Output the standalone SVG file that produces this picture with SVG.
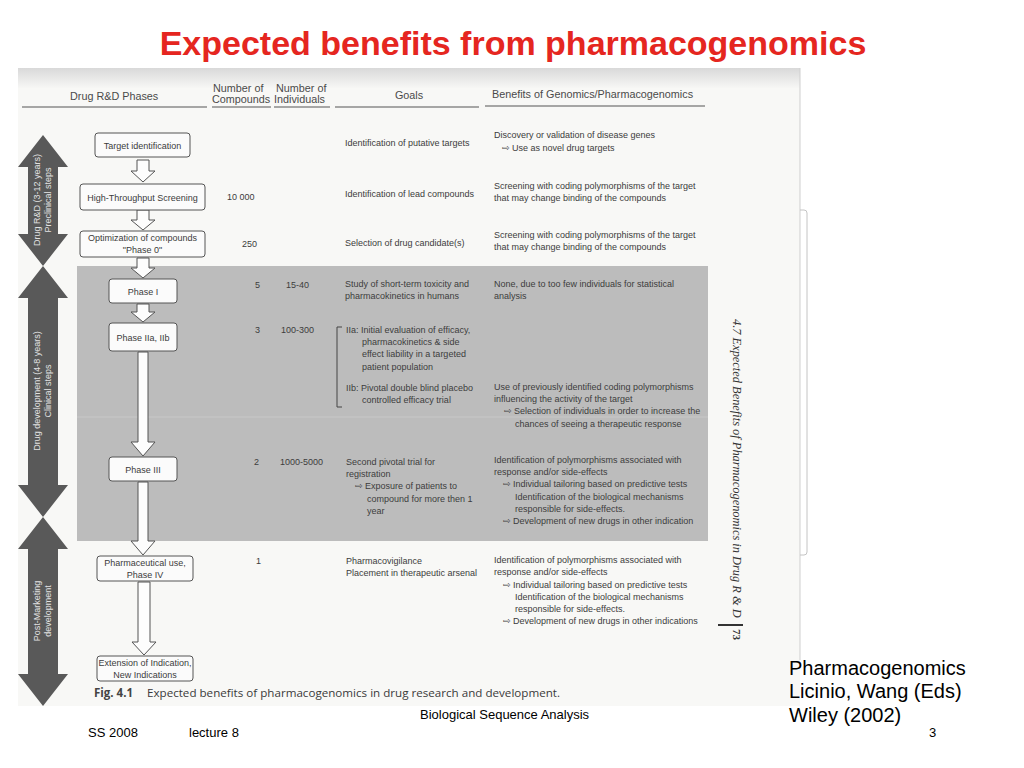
<svg xmlns="http://www.w3.org/2000/svg" width="1024" height="768" viewBox="0 0 1024 768">
<defs>
<linearGradient id="topband" x1="0" y1="0" x2="0" y2="1">
<stop offset="0" stop-color="#d9d9d9"/>
<stop offset="1" stop-color="#f7f7f5"/>
</linearGradient>
<style>
.hdr{font-family:"Liberation Sans","DejaVu Sans",sans-serif;font-size:10.8px;fill:#4a4a4a}
.t{font-family:"Liberation Sans","DejaVu Sans",sans-serif;font-size:9px;fill:#3c3c3c}
.bx{fill:#fbfbfb;stroke:#555;stroke-width:1}
.bt{font-family:"Liberation Sans","DejaVu Sans",sans-serif;font-size:9px;fill:#3c3c3c;text-anchor:middle}
.ba{fill:#fdfdfd;stroke:#555;stroke-width:1;stroke-linejoin:miter}
.da{fill:#595959}
.dt{font-family:"Liberation Sans","DejaVu Sans",sans-serif;font-size:9px;fill:#e2e2e2;text-anchor:middle}
.ul{stroke:#555;stroke-width:1}
.foot{font-family:"Liberation Sans",Arial,sans-serif;font-size:13px;fill:#000}
.ref{font-family:"Liberation Sans",Arial,sans-serif;font-size:20px;fill:#000}
</style>
</defs>
<rect width="1024" height="768" fill="#ffffff"/>
<text x="513" y="55" text-anchor="middle" font-family="'Liberation Sans',Arial,sans-serif" font-size="34" font-weight="bold" fill="#e52620">Expected benefits from pharmacogenomics</text>

<g id="page">
<rect x="18" y="68" width="782" height="638" fill="#f8f8f6"/>
<rect x="18" y="68" width="782" height="20" fill="url(#topband)"/>
<line x1="800" y1="68" x2="800" y2="660" stroke="#cfcfcf" stroke-width="1"/>
<path d="M800,210 H804 Q807,210 807,213 V552 Q807,555 804,555 H800" fill="none" stroke="#c4c4c4" stroke-width="1"/>
<rect x="77" y="266" width="631" height="275" fill="#bcbcbc"/>
<line x1="77" y1="417" x2="708" y2="417" stroke="#c4c4c4" stroke-width="1.5"/>
</g>

<g id="header">
<text class="hdr" x="70" y="100">Drug R&amp;D Phases</text>
<text class="hdr" x="213" y="92">Number of</text>
<text class="hdr" x="212" y="103">Compounds</text>
<text class="hdr" x="276" y="92">Number of</text>
<text class="hdr" x="274" y="103">Individuals</text>
<text class="hdr" x="409" y="99" text-anchor="middle">Goals</text>
<text class="hdr" x="492" y="98">Benefits of Genomics/Pharmacogenomics</text>
<line class="ul" x1="22" y1="107" x2="207" y2="107"/>
<line class="ul" x1="212" y1="107" x2="271" y2="107"/>
<line class="ul" x1="274" y1="107" x2="330" y2="107"/>
<line class="ul" x1="335" y1="107" x2="479" y2="107"/>
<line class="ul" x1="485" y1="106" x2="705" y2="106"/>
</g>

<g id="stage-preclinical">
<path class="da" d="M43,135 L68,167 L58,167 L58,234 L68,234 L43,266 L18,234 L28,234 L28,167 L18,167 Z"/>
<text class="dt" transform="translate(40,200) rotate(-90)">Drug R&amp;D (3-12 years)</text>
<text class="dt" transform="translate(51,200) rotate(-90)">Preclinical steps</text>
</g>
<g id="stage-clinical">
<path class="da" d="M43,266 L68,298 L58,298 L58,485 L68,485 L43,517 L18,485 L28,485 L28,298 L18,298 Z"/>
<text class="dt" transform="translate(40,391) rotate(-90)">Drug development (4-8 years)</text>
<text class="dt" transform="translate(51,391) rotate(-90)">Clinical steps</text>
</g>
<g id="stage-postmarketing">
<path class="da" d="M43,517 L68,549 L58,549 L58,674 L68,674 L43,706 L18,674 L28,674 L28,549 L18,549 Z"/>
<text class="dt" transform="translate(40,611) rotate(-90)">Post-Marketing</text>
<text class="dt" transform="translate(51,611) rotate(-90)">development</text>
</g>

<g id="connectors">
<path class="ba" d="M137,160 H149 V171 H155 L143,182 L131,171 H137 Z"/>
<path class="ba" d="M137,210 H149 V220 H155 L143,230 L131,220 H137 Z"/>
<path class="ba" d="M137,258 H149 V268 H155 L143,278 L131,268 H137 Z"/>
<path class="ba" d="M137,304 H149 V312 H155 L143,322 L131,312 H137 Z"/>
<path class="ba" d="M138,352 H148 V442 H155 L143,456 L131,442 H138 Z"/>
<path class="ba" d="M138,482 H148 V541 H155 L143,555 L131,541 H138 Z"/>
<path class="ba" d="M138,582 H150 V642 H156 L144,655 L132,642 H138 Z"/>
</g>

<g id="target-identification">
<rect class="bx" x="95" y="133" width="95" height="24" rx="3"/>
<text class="bt" x="142.5" y="149">Target identification</text>
<text class="t" x="345" y="146">Identification of putative targets</text>
<text class="t" x="494" y="138">Discovery or validation of disease genes</text>
<text class="t" x="502" y="151">⇨ Use as novel drug targets</text>
</g>

<g id="hts">
<rect class="bx" x="80" y="184" width="125" height="26" rx="3"/>
<text class="bt" x="142.5" y="201">High-Throughput Screening</text>
<text class="t" x="227" y="200">10 000</text>
<text class="t" x="345" y="197">Identification of lead compounds</text>
<text class="t" x="494" y="189">Screening with coding polymorphisms of the target</text>
<text class="t" x="494" y="201">that may change binding of the compounds</text>
</g>

<g id="optimization">
<rect class="bx" x="80" y="231" width="125" height="26" rx="3"/>
<text class="bt" x="142.5" y="241">Optimization of compounds</text>
<text class="bt" x="142.5" y="253">"Phase 0"</text>
<text class="t" x="242" y="247">250</text>
<text class="t" x="345" y="246">Selection of drug candidate(s)</text>
<text class="t" x="494" y="238">Screening with coding polymorphisms of the target</text>
<text class="t" x="494" y="250">that may change binding of the compounds</text>
</g>

<g id="phase-1">
<rect class="bx" x="109" y="279" width="68" height="24" rx="3"/>
<text class="bt" x="143" y="295">Phase I</text>
<text class="t" x="255" y="288">5</text>
<text class="t" x="286" y="288">15-40</text>
<text class="t" x="345" y="287">Study of short-term toxicity and</text>
<text class="t" x="345" y="299">pharmacokinetics in humans</text>
<text class="t" x="494" y="287">None, due to too few individuals for statistical</text>
<text class="t" x="494" y="299">analysis</text>
</g>

<g id="phase-2">
<rect class="bx" x="109" y="323" width="68" height="28" rx="3"/>
<text class="bt" x="143" y="341">Phase IIa, IIb</text>
<text class="t" x="255" y="333">3</text>
<text class="t" x="281" y="333">100-300</text>
<path d="M342,327 H337 V407 H342" fill="none" stroke="#444" stroke-width="1"/>
<text class="t" x="346" y="333">IIa: Initial evaluation of efficacy,</text>
<text class="t" x="362" y="345">pharmacokinetics &amp; side</text>
<text class="t" x="362" y="357">effect liability in a targeted</text>
<text class="t" x="362" y="370">patient population</text>
<text class="t" x="346" y="391">IIb: Pivotal double blind placebo</text>
<text class="t" x="362" y="403">controlled efficacy trial</text>
<text class="t" x="494" y="390">Use of previously identified coding polymorphisms</text>
<text class="t" x="494" y="402">influencing the activity of the target</text>
<text class="t" x="504" y="414">⇨ Selection of individuals in order to increase the</text>
<text class="t" x="515" y="427">chances of seeing a therapeutic response</text>
</g>

<g id="phase-3">
<rect class="bx" x="109" y="457" width="68" height="24" rx="3"/>
<text class="bt" x="143" y="473">Phase III</text>
<text class="t" x="254" y="465">2</text>
<text class="t" x="280" y="465">1000-5000</text>
<text class="t" x="346" y="465">Second pivotal trial for</text>
<text class="t" x="346" y="477">registration</text>
<text class="t" x="355" y="489">⇨ Exposure of patients to</text>
<text class="t" x="367" y="502">compound for more then 1</text>
<text class="t" x="367" y="514">year</text>
<text class="t" x="494" y="463">Identification of polymorphisms associated with</text>
<text class="t" x="494" y="475">response and/or side-effects</text>
<text class="t" x="503" y="487">⇨ Individual tailoring based on predictive tests</text>
<text class="t" x="515" y="500">Identification of the biological mechanisms</text>
<text class="t" x="515" y="512">responsible for side-effects.</text>
<text class="t" x="503" y="524">⇨ Development of new drugs in other indication</text>
</g>

<g id="phase-4">
<rect class="bx" x="97" y="556" width="96" height="25" rx="3"/>
<text class="bt" x="145" y="566">Pharmaceutical use,</text>
<text class="bt" x="145" y="578">Phase IV</text>
<text class="t" x="256" y="564">1</text>
<text class="t" x="346" y="564">Pharmacovigilance</text>
<text class="t" x="346" y="576">Placement in therapeutic arsenal</text>
<text class="t" x="494" y="563">Identification of polymorphisms associated with</text>
<text class="t" x="494" y="575">response and/or side-effects</text>
<text class="t" x="503" y="588">⇨ Individual tailoring based on predictive tests</text>
<text class="t" x="515" y="600">Identification of the biological mechanisms</text>
<text class="t" x="515" y="612">responsible for side-effects.</text>
<text class="t" x="503" y="624">⇨ Development of new drugs in other indications</text>
</g>

<g id="extension">
<rect class="bx" x="97" y="656" width="96" height="25" rx="3"/>
<text class="bt" x="145" y="666">Extension of Indication,</text>
<text class="bt" x="145" y="678">New Indications</text>
</g>

<g id="running-head">
<text transform="translate(733,319) rotate(90)" font-family="'Liberation Serif','DejaVu Serif',serif" font-style="italic" font-size="12.4" fill="#333">4.7 Expected Benefits of Pharmacogenomics in Drug R &amp; D</text>
<line x1="718" y1="625" x2="743" y2="625" stroke="#333" stroke-width="2"/>
<text transform="translate(733,629) rotate(90)" font-family="'Liberation Serif','DejaVu Serif',serif" font-weight="bold" font-size="11" fill="#333">73</text>
</g>

<g id="caption">
<text x="94" y="697" font-family="'Open Sans','Noto Sans',sans-serif" font-size="11.5" font-weight="bold" fill="#444">Fig. 4.1</text>
<text x="147" y="697" font-family="'Open Sans','Noto Sans',sans-serif" font-size="11.5" fill="#3a3a3a" textLength="413" lengthAdjust="spacingAndGlyphs">Expected benefits of pharmacogenomics in drug research and development.</text>
</g>

<g id="footer">
<text class="foot" x="420" y="719">Biological Sequence Analysis</text>
<text class="foot" x="88" y="737">SS 2008</text>
<text class="foot" x="189" y="737">lecture 8</text>
<text class="foot" x="929" y="737">3</text>
<text class="ref" x="789" y="675">Pharmacogenomics</text>
<text class="ref" x="789" y="698">Licinio, Wang (Eds)</text>
<text class="ref" x="789" y="722">Wiley (2002)</text>
</g>
</svg>
